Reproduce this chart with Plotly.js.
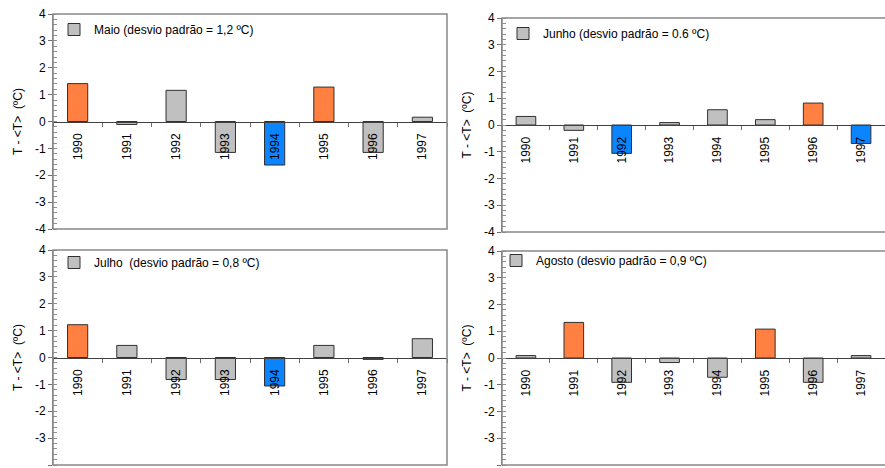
<!DOCTYPE html>
<html>
<head>
<meta charset="utf-8">
<script src="https://cdn.plot.ly/plotly-3.0.1.min.js"></script>
<style>html,body{margin:0;padding:0;background:#fff;}#chart{width:885px;height:468px;}</style>
</head>
<body>
<div id="chart"></div>
<script>
// ---- data ----
const years = ['1990','1991','1992','1993','1994','1995','1996','1997'];

const maio   = [1.41, -0.11, 1.16, -1.15, -1.62, 1.28, -1.15, 0.16];
const junho  = [0.32, -0.20, -1.06, 0.09, 0.57, 0.20, 0.82, -0.69];
const julho  = [1.22, 0.45, -0.82, -0.82, -1.06, 0.45, -0.07, 0.70];
const agosto = [0.09, 1.33, -0.91, -0.17, -0.72, 1.08, -0.91, 0.09];

// class of each year: n = normal (grey), q = quente (orange), f = frio (blue)
const maioClass   = ['q','n','n','n','f','q','n','n'];
const junhoClass  = ['n','n','f','n','n','n','q','f'];
const julhoClass  = ['q','n','n','n','f','n','n','n'];
const agostoClass = ['n','q','n','n','n','q','n','n'];

const legendLabels = [
  'Maio (desvio padrão = 1,2 ºC)',
  'Junho (desvio padrão = 0.6 ºC)',
  'Julho&nbsp; (desvio padrão = 0,8 ºC)',
  'Agosto (desvio padrão = 0,9 ºC)'
];

const yTicks = [-4,-3,-2,-1,0,1,2,3,4];

// ---- styling ----
const colors = {n:'#C0C0C0', q:'#FF8040', f:'#0A84FF'};
const W = 885, H = 468;
const FONT = 'Liberation Sans, Arial, sans-serif';

// panel boxes in pixels [left, right, top, bottom]
const boxes = [
  [53, 447, 14, 229],
  [502, 889, 18, 232],
  [53, 447, 250, 465],
  [502, 889, 251, 465]
];
const legendPos = [[54, 15], [503, 19], [54, 248], [496, 246]];

const series = [maio, junho, julho, agosto];
const classes = [maioClass, junhoClass, julhoClass, agostoClass];

const traces = [];
const layout = {
  width: W, height: H,
  margin: {l:0, r:0, t:0, b:0},
  paper_bgcolor: '#fff', plot_bgcolor: '#fff',
  barmode: 'overlay',
  font: {family: FONT, size: 12, color: '#000'},
  shapes: []
};

series.forEach((vals, i) => {
  const k = i + 1;
  const xa = 'x' + (k === 1 ? '' : k), ya = 'y' + (k === 1 ? '' : k);
  const xaKey = 'xaxis' + (k === 1 ? '' : k), yaKey = 'yaxis' + (k === 1 ? '' : k);
  const legKey = 'legend' + (k === 1 ? '' : k);
  ['n','q','f'].forEach(c => {
    const xs = [], ys = [];
    years.forEach((yr, j) => { if (classes[i][j] === c) { xs.push(yr); ys.push(vals[j]); } });
    traces.push({
      type: 'bar', x: xs, y: ys, xaxis: xa, yaxis: ya,
      width: 0.41,
      marker: {color: colors[c], line: {color: '#303030', width: 1}},
      name: legendLabels[i],
      showlegend: c === 'n',
      legend: legKey,
      hoverinfo: 'x+y'
    });
  });
  const b = boxes[i];
  const xd = [b[0] / W, Math.min(b[1] / W, 1)];
  const yd = [1 - b[3] / H, 1 - b[2] / H];
  layout[xaKey] = {
    domain: xd, anchor: 'free', position: (yd[0] + yd[1]) / 2,
    type: 'category', categoryorder: 'array', categoryarray: years,
    range: [-0.5, 7.5], fixedrange: true,
    showline: true, linecolor: '#404040', linewidth: 1,
    ticks: 'outside', tickson: 'boundaries', ticklen: 4, tickcolor: '#707070',
    ticklabelstandoff: 6,
    tickangle: -90, tickfont: {family: FONT, size: 12, color: '#000'},
    showgrid: false, zeroline: false
  };
  layout[yaKey] = {
    domain: yd, anchor: xa, range: [-4, 4], fixedrange: true,
    tickvals: yTicks, ticktext: yTicks.map(String),
    ticks: 'outside', ticklen: 4, tickcolor: '#707070',
    minor: {dtick: 0.2, ticks: 'inside', ticklen: 4, tickcolor: '#909090', showgrid: false},
    showline: true, linecolor: '#808080', linewidth: 1,
    showgrid: false, zeroline: false,
    tickfont: {family: FONT, size: 12, color: '#000'},
    title: {text: 'T - &lt;T&gt;&nbsp; (ºC)', font: {family: FONT, size: 12, color: '#000'}, standoff: 9}
  };
  layout[legKey] = {
    x: legendPos[i][0] / W, y: 1 - legendPos[i][1] / H,
    xref: 'paper', yref: 'paper', xanchor: 'left', yanchor: 'top',
    bgcolor: 'rgba(0,0,0,0)', borderwidth: 0, itemwidth: 30,
    font: {family: FONT, size: 12, color: '#000'}
  };
  layout.shapes.push({
    type: 'rect', xref: xa + ' domain', yref: ya + ' domain',
    x0: 0, x1: (b[1] - b[0]) / (Math.min(b[1], W) - b[0]), y0: 0, y1: 1,
    line: {color: '#888888', width: 1.5}, layer: 'above'
  });
});

Plotly.newPlot('chart', traces, layout, {staticPlot: true, displayModeBar: false});
</script>
</body>
</html>
